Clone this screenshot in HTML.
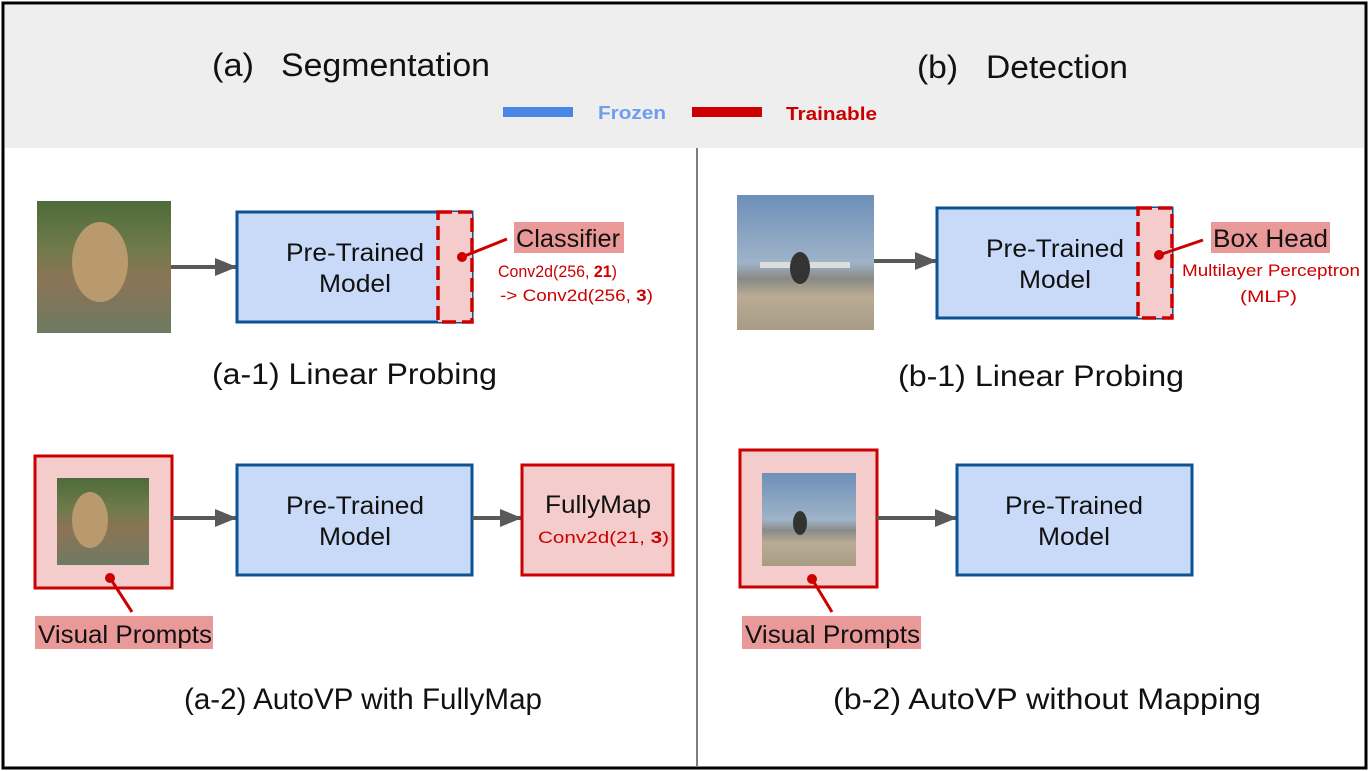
<!DOCTYPE html>
<html><head><meta charset="utf-8"><style>
html,body{margin:0;padding:0;background:#fff;}
svg, svg text{font-family:"Liberation Sans",Arial,Helvetica,sans-serif;}
svg{display:block;}
</style></head><body>
<svg width="1370" height="771" viewBox="0 0 1370 771" xmlns="http://www.w3.org/2000/svg" font-family="Liberation Sans, Arial, sans-serif">
<defs>
<marker id="ar" markerWidth="22" markerHeight="18" refX="21" refY="9" orient="auto" markerUnits="userSpaceOnUse" viewBox="0 0 22 18">
<path d="M0,0 L22,9 L0,18 z" fill="#595959"/></marker>
<linearGradient id="dog" x1="0" y1="0" x2="0" y2="1">
<stop offset="0" stop-color="#4f6b3a"/><stop offset="0.35" stop-color="#6f7a4a"/><stop offset="0.6" stop-color="#8a7456"/><stop offset="1" stop-color="#6e7a62"/></linearGradient>
<linearGradient id="plane" x1="0" y1="0" x2="0" y2="1">
<stop offset="0" stop-color="#6d8fb8"/><stop offset="0.5" stop-color="#9fb3c8"/><stop offset="0.62" stop-color="#8a8a86"/><stop offset="0.75" stop-color="#b9ab94"/><stop offset="1" stop-color="#a99c86"/></linearGradient>
</defs>
<rect x="3" y="3" width="1363" height="765" fill="#fff" stroke="#000" stroke-width="3"/>
<rect x="5" y="5" width="1359" height="143" fill="#eeeeee"/>
<line x1="697" y1="148" x2="697" y2="766" stroke="#555" stroke-width="1.5"/>

<text x="212" y="76" font-size="32" fill="#111" textLength="42" lengthAdjust="spacingAndGlyphs">(a)</text>
<text x="281" y="76" font-size="32" fill="#111" textLength="209" lengthAdjust="spacingAndGlyphs">Segmentation</text>
<text x="917" y="78" font-size="32" fill="#111" textLength="41" lengthAdjust="spacingAndGlyphs">(b)</text>
<text x="986" y="78" font-size="32" fill="#111" textLength="142" lengthAdjust="spacingAndGlyphs">Detection</text>
<rect x="503" y="107" width="70" height="10" fill="#4a86e8"/>
<text x="598" y="119" font-size="18" font-weight="bold" fill="#6d9eeb" textLength="68" lengthAdjust="spacingAndGlyphs">Frozen</text>
<rect x="692" y="107" width="70" height="10" fill="#cc0000"/>
<text x="786" y="120" font-size="18" font-weight="bold" fill="#cc0000" textLength="91" lengthAdjust="spacingAndGlyphs">Trainable</text>

<!-- a-1 -->
<rect x="37" y="201" width="134" height="132" fill="url(#dog)"/>
<ellipse cx="100" cy="262" rx="28" ry="40" fill="#b89a6e"/>
<line x1="171" y1="267" x2="236" y2="267" stroke="#595959" stroke-width="4" marker-end="url(#ar)"/>
<rect x="237" y="212" width="235" height="110" fill="#c9daf8" stroke="#0b5394" stroke-width="3"/>
<rect x="438" y="212" width="34" height="110" fill="#f4cccc"/>
<rect x="438" y="212" width="34" height="110" fill="none" stroke="#cc0000" stroke-width="3.5" stroke-dasharray="14,6"/>
<text x="286" y="261" font-size="25" fill="#111" textLength="138" lengthAdjust="spacingAndGlyphs">Pre-Trained</text>
<text x="319" y="292" font-size="25" fill="#111" textLength="72" lengthAdjust="spacingAndGlyphs">Model</text>
<line x1="462" y1="257" x2="507" y2="239" stroke="#cc0000" stroke-width="3"/>
<circle cx="462" cy="257" r="5" fill="#cc0000"/>
<rect x="514" y="222" width="110" height="31" fill="#ea9999"/>
<text x="516" y="247" font-size="25" fill="#111" textLength="104" lengthAdjust="spacingAndGlyphs">Classifier</text>
<text x="498" y="277" font-size="17" fill="#cc0000" textLength="119" lengthAdjust="spacingAndGlyphs">Conv2d(256, <tspan font-weight="bold">21</tspan>)</text>
<text x="500" y="301" font-size="17" fill="#cc0000" textLength="153" lengthAdjust="spacingAndGlyphs">-&gt; Conv2d(256, <tspan font-weight="bold">3</tspan>)</text>
<text x="212" y="384" font-size="30" fill="#111" textLength="285" lengthAdjust="spacingAndGlyphs">(a-1) Linear Probing</text>

<!-- a-2 -->
<rect x="35" y="456" width="137" height="132" fill="#f4cccc" stroke="#cc0000" stroke-width="3"/>
<rect x="57" y="478" width="92" height="87" fill="url(#dog)"/>
<ellipse cx="90" cy="520" rx="18" ry="28" fill="#b89a6e"/>
<line x1="110" y1="578" x2="132" y2="612" stroke="#cc0000" stroke-width="3"/>
<circle cx="110" cy="578" r="5" fill="#cc0000"/>
<rect x="35" y="616" width="178" height="33" fill="#ea9999"/>
<text x="38" y="643" font-size="25" fill="#111" textLength="174" lengthAdjust="spacingAndGlyphs">Visual Prompts</text>
<line x1="172" y1="518" x2="236" y2="518" stroke="#595959" stroke-width="4" marker-end="url(#ar)"/>
<rect x="237" y="465" width="235" height="110" fill="#c9daf8" stroke="#0b5394" stroke-width="3"/>
<text x="286" y="514" font-size="25" fill="#111" textLength="138" lengthAdjust="spacingAndGlyphs">Pre-Trained</text>
<text x="319" y="545" font-size="25" fill="#111" textLength="72" lengthAdjust="spacingAndGlyphs">Model</text>
<line x1="472" y1="518" x2="521" y2="518" stroke="#595959" stroke-width="4" marker-end="url(#ar)"/>
<rect x="522" y="465" width="151" height="110" fill="#f4cccc" stroke="#cc0000" stroke-width="3"/>
<text x="545" y="513" font-size="25" fill="#111" textLength="106" lengthAdjust="spacingAndGlyphs">FullyMap</text>
<text x="538" y="543" font-size="17" fill="#cc0000" textLength="131" lengthAdjust="spacingAndGlyphs">Conv2d(21, <tspan font-weight="bold">3</tspan>)</text>
<text x="184" y="709" font-size="30" fill="#111" textLength="358" lengthAdjust="spacingAndGlyphs">(a-2) AutoVP with FullyMap</text>

<!-- b-1 -->
<rect x="737" y="195" width="137" height="135" fill="url(#plane)"/>
<rect x="760" y="262" width="90" height="6" fill="#ddd"/>
<ellipse cx="800" cy="268" rx="10" ry="16" fill="#333"/>
<line x1="874" y1="261" x2="936" y2="261" stroke="#595959" stroke-width="4" marker-end="url(#ar)"/>
<rect x="937" y="208" width="235" height="110" fill="#c9daf8" stroke="#0b5394" stroke-width="3"/>
<rect x="1138" y="208" width="34" height="110" fill="#f4cccc"/>
<rect x="1138" y="208" width="34" height="110" fill="none" stroke="#cc0000" stroke-width="3.5" stroke-dasharray="14,6"/>
<text x="986" y="257" font-size="25" fill="#111" textLength="138" lengthAdjust="spacingAndGlyphs">Pre-Trained</text>
<text x="1019" y="288" font-size="25" fill="#111" textLength="72" lengthAdjust="spacingAndGlyphs">Model</text>
<line x1="1159" y1="255" x2="1203" y2="240" stroke="#cc0000" stroke-width="3"/>
<circle cx="1159" cy="255" r="5" fill="#cc0000"/>
<rect x="1211" y="222" width="119" height="31" fill="#ea9999"/>
<text x="1213" y="247" font-size="25" fill="#111" textLength="115" lengthAdjust="spacingAndGlyphs">Box Head</text>
<text x="1182" y="276" font-size="17" fill="#cc0000" textLength="178" lengthAdjust="spacingAndGlyphs">Multilayer Perceptron</text>
<text x="1240" y="302" font-size="17" fill="#cc0000" textLength="57" lengthAdjust="spacingAndGlyphs">(MLP)</text>
<text x="898" y="386" font-size="30" fill="#111" textLength="286" lengthAdjust="spacingAndGlyphs">(b-1) Linear Probing</text>

<!-- b-2 -->
<rect x="740" y="450" width="137" height="137" fill="#f4cccc" stroke="#cc0000" stroke-width="3"/>
<rect x="762" y="473" width="94" height="93" fill="url(#plane)"/>
<ellipse cx="800" cy="523" rx="7" ry="12" fill="#333"/>
<line x1="812" y1="579" x2="832" y2="612" stroke="#cc0000" stroke-width="3"/>
<circle cx="812" cy="579" r="5" fill="#cc0000"/>
<rect x="742" y="616" width="179" height="33" fill="#ea9999"/>
<text x="745" y="643" font-size="25" fill="#111" textLength="175" lengthAdjust="spacingAndGlyphs">Visual Prompts</text>
<line x1="877" y1="518" x2="956" y2="518" stroke="#595959" stroke-width="4" marker-end="url(#ar)"/>
<rect x="957" y="465" width="235" height="110" fill="#c9daf8" stroke="#0b5394" stroke-width="3"/>
<text x="1005" y="514" font-size="25" fill="#111" textLength="138" lengthAdjust="spacingAndGlyphs">Pre-Trained</text>
<text x="1038" y="545" font-size="25" fill="#111" textLength="72" lengthAdjust="spacingAndGlyphs">Model</text>
<text x="833" y="709" font-size="30" fill="#111" textLength="428" lengthAdjust="spacingAndGlyphs">(b-2) AutoVP without Mapping</text>
</svg>
</body></html>
